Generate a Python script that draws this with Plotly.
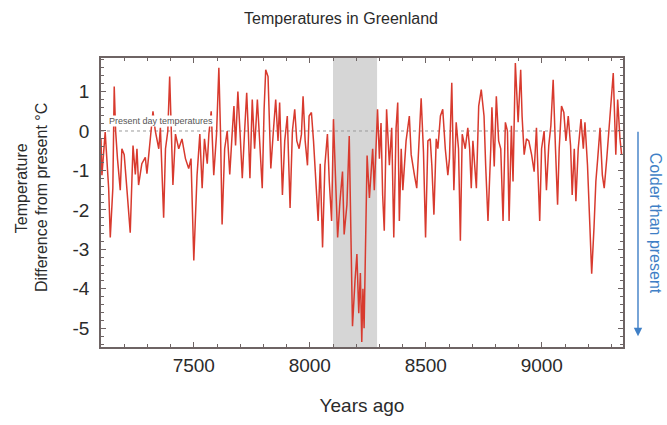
import plotly.graph_objects as go

# ---- data ----
years_ago = [7100,7104,7118,7133,7140,7151,7157,7163,7171,7183,7190,7200,7212,7226,7238,7248,7255,7262,7276,7291,
             7298,7313,7324,7334,7349,7356,7363,7370,7378,7388,7396,7404,7410,7421,7435,7449,7464,7478,7488,7500,
             7514,7526,7536,7546,7558,7565,7575,7586,7598,7608,7615,7622,7633,7644,7655,7666,7673,7680,7690,7699,
             7709,7719,7728,7735,7742,7752,7762,7774,7785,7795,7803,7810,7820,7827,7832,7843,7853,7863,7870,7882,
             7892,7903,7915,7925,7935,7944,7954,7964,7971,7980,7990,7997,8007,8016,8026,8036,8045,8055,8065,8076,
             8084,8094,8102,8113,8120,8130,8141,8148,8160,8170,8177,8184,8195,8203,8211,8218,8224,8229,8234,8240,
             8247,8257,8271,8278,8292,8300,8307,8314,8321,8331,8343,8353,8362,8372,8379,8386,8394,8401,8415,8429,
             8437,8451,8461,8473,8480,8490,8499,8509,8519,8526,8535,8545,8552,8563,8573,8584,8595,8602,8612,8621,
             8631,8641,8649,8657,8670,8681,8689,8696,8703,8718,8728,8739,8751,8758,8768,8780,8785,8795,8804,8814,
             8823,8833,8843,8852,8859,8869,8876,8886,8893,8898,8909,8915,8924,8934,8944,8956,8967,8977,8984,8991,
             8999,9010,9020,9030,9039,9049,9059,9068,9075,9085,9095,9104,9114,9124,9131,9140,9147,9157,9169,9179,
             9186,9197,9207,9215,9225,9233,9241,9251,9261,9269,9280,9290,9301,9308,9319,9327,9337,9344]
temp_diff = [-0.2,-1.12,-0.03,-1.45,-2.7,-1.45,1.13,0.0,-0.7,-1.5,-0.45,-0.6,-1.5,-2.58,-0.37,-1.1,-0.45,-1.37,-0.83,-0.67,
             -1.08,-0.2,0.5,0.0,-0.45,0.08,-1.12,-2.2,-0.45,0.0,1.38,0.0,-1.37,-0.08,-0.45,-0.2,-0.7,-0.95,-0.7,-3.28,
             -1.12,-0.08,-1.45,-0.2,-0.83,-0.08,0.5,-1.12,-0.08,1.6,0.0,-2.37,-0.45,0.0,-1.1,0.0,0.63,-0.37,1.0,0.0,
             -1.2,0.0,0.97,0.0,-1.2,0.8,-0.45,0.8,-0.45,-1.45,0.55,1.55,1.38,-0.45,-0.95,0.0,0.8,-0.25,0.72,-1.62,
             -0.25,0.38,-1.95,0.0,0.55,-0.25,-0.45,-0.08,0.88,-0.25,-0.87,0.38,0.47,-0.25,-1.37,-2.28,-0.83,-2.95,-0.87,-0.08,
             -1.28,-2.28,0.3,-1.28,-2.7,-1.78,-1.03,-2.62,-1.87,-0.13,-2.95,-4.95,-3.78,-3.12,-4.62,-3.6,-5.35,-4.0,-5.0,-2.6,
             -0.62,-1.7,-0.45,-1.5,0.55,-0.7,0.2,-1.62,-2.53,0.55,-0.87,0.08,-2.7,0.08,0.72,-2.28,-0.45,-1.5,-0.25,0.38,
             -0.6,-1.12,-1.45,0.0,0.83,-0.53,-2.7,-0.25,-0.2,-0.87,-2.12,-0.2,-0.45,0.38,0.55,-0.45,-1.12,-0.7,1.22,-1.5,
             0.22,-0.45,-2.78,-0.08,-0.45,0.08,-0.45,-1.45,-0.25,-1.45,0.63,1.05,0.38,-0.87,-2.28,-0.45,0.6,-0.9,0.88,-0.25,
             -0.45,-2.28,0.22,0.0,-2.28,0.13,-1.28,1.72,0.72,0.22,1.55,0.38,-0.6,-0.2,-0.25,-0.6,-1.03,0.08,-1.12,-2.28,
             -0.45,0.0,-1.5,-0.37,0.13,1.3,-0.45,-1.87,-0.45,0.63,0.47,-0.25,0.38,-0.37,-1.62,-0.45,-1.78,-0.45,0.3,-0.45,
             0.22,-0.87,-2.37,-3.62,-2.45,-1.28,-0.7,0.08,-1.12,-1.45,-0.7,0.08,1.05,1.47,-0.6,0.8,-0.2,-0.6]

event_start, event_end = 8100, 8290
x_tick_vals = [7500, 8000, 8500, 9000]
x_tick_labels = ["7500", "8000", "8500", "9000"]
y_tick_vals = [1, 0, -1, -2, -3, -4, -5]
y_tick_labels = ["1", "0", "-1", "-2", "-3", "-4", "-5"]

W, H = 667, 425
L, R, T, B = 101, 44, 58, 74
FONT = "Liberation Sans, Arial, sans-serif"
AX = "#6e6464"
BLUE = "#3f7fc6"
TXT = "#2b2b2b"

def px(xp):
    return (xp - L) / (W - L - R)

def py(yp):
    return 1 - (yp - T) / (H - T - B)

fig = go.Figure()
fig.add_vrect(x0=event_start, x1=event_end, fillcolor="#d6d6d6", line_width=0, layer="below")
fig.add_hline(y=0, line=dict(color="#9a9a9a", width=1, dash="dot"), layer="below")
fig.add_trace(go.Scatter(x=years_ago, y=temp_diff, mode="lines",
                         line=dict(color="#d83a2e", width=1.5), hoverinfo="skip"))

fig.update_layout(
    width=W, height=H, margin=dict(l=L, r=R, t=T, b=B),
    paper_bgcolor="white", plot_bgcolor="white", showlegend=False,
    font=dict(family=FONT, color=TXT),
    title=dict(text="Temperatures in Greenland", x=341 / W, xanchor="center",
               y=1 - 18 / H, yanchor="middle", font=dict(size=16, family=FONT, color=TXT)),
    xaxis=dict(range=[7100, 9350], tickvals=x_tick_vals, ticktext=x_tick_labels,
               ticks="inside", ticklen=5, tickcolor=AX, tickwidth=1.2,
               minor=dict(dtick=100, ticks="inside", ticklen=3, tickcolor=AX),
               showline=True, linecolor=AX, linewidth=1.6, mirror="allticks",
               showgrid=False, zeroline=False, tickfont=dict(size=19, family=FONT, color=TXT),
               title=dict(text="Years ago", font=dict(size=19, family=FONT, color=TXT), standoff=24)),
    yaxis=dict(range=[-5.475, 1.85], tickvals=y_tick_vals, ticktext=y_tick_labels,
               ticks="inside", ticklen=5, tickcolor=AX, tickwidth=1.2,
               minor=dict(dtick=0.2, ticks="inside", ticklen=3, tickcolor=AX),
               showline=True, linecolor=AX, linewidth=1.6, mirror="allticks",
               showgrid=False, zeroline=False, tickfont=dict(size=19, family=FONT, color=TXT),
               ticklabelstandoff=6),
)

fig.add_annotation(text="Present day temperatures", xref="x", yref="y", x=7128, y=0.25,
                   xanchor="left", yanchor="middle", showarrow=False,
                   font=dict(size=9, family=FONT, color="#555555"), bgcolor="white", borderpad=0)
fig.add_annotation(text="Temperature", xref="paper", yref="paper", x=px(21), y=py(190),
                   textangle=-90, showarrow=False, xanchor="center", yanchor="middle",
                   font=dict(size=16, family=FONT, color=TXT))
fig.add_annotation(text="Difference from present °C", xref="paper", yref="paper", x=px(41), y=py(200),
                   textangle=-90, showarrow=False, xanchor="center", yanchor="middle",
                   font=dict(size=16, family=FONT, color=TXT))
fig.add_annotation(text="Colder than present", xref="paper", yref="paper", x=px(655), y=py(225),
                   textangle=90, showarrow=False, xanchor="center", yanchor="middle",
                   font=dict(size=16, family=FONT, color=BLUE))
fig.add_annotation(text="", xref="paper", yref="paper", x=px(638), y=py(340),
                   ax=0, ay=-206, showarrow=True, arrowhead=2, arrowsize=1.2,
                   arrowwidth=1.4, arrowcolor=BLUE)

fig.write_html("out.html", config={"displayModeBar": False},
               post_script="document.body.style.margin='0';")
